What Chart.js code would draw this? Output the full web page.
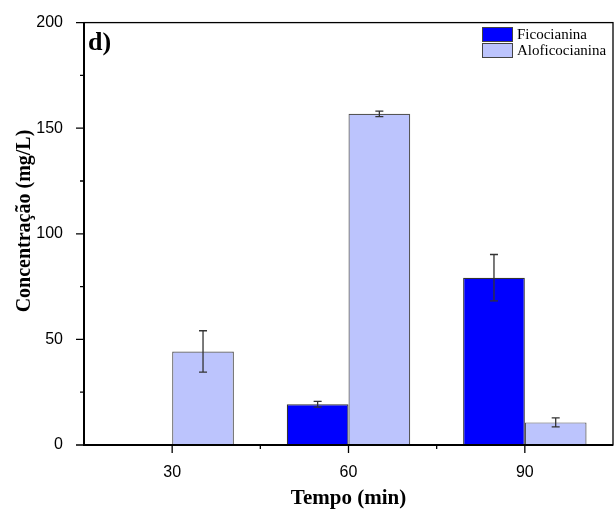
<!DOCTYPE html>
<html>
<head>
<meta charset="utf-8">
<script src="https://cdn.jsdelivr.net/npm/chart.js@4.4.1/dist/chart.umd.min.js"></script>
<style>
html,body{margin:0;padding:0;background:#fff;}
#wrap{width:614px;height:514px;position:relative;}
</style>
</head>
<body>
<div id="wrap"><canvas id="c" width="614" height="514"></canvas></div>
<script>
const categories = ['30', '60', '90'];
const ficoValues = [null, 19.3, 79.2];
const ficoErrors = [null, 1.4, 11.0];
const aloValues = [44.3, 156.8, 10.7];
const aloErrors = [9.8, 1.3, 2.1];
const yTicks = [0, 50, 100, 150, 200];
const yMinorTicks = [25, 75, 125, 175];
const seriesLabels = ['Ficocianina', 'Aloficocianina'];
const panelLabel = 'd)';
const xTitle = 'Tempo (min)';
const yTitle = 'Concentração (mg/L)';

const SERIF = '"Liberation Serif", "Times New Roman", serif';
const SANS = '"Liberation Sans", Arial, sans-serif';

const decor = {
  id: 'decor',
  afterDatasetsDraw(chart) {
    const ctx = chart.ctx;
    const ca = chart.chartArea;
    const xs = chart.scales.x, ys = chart.scales.y;
    ctx.save();
    // error bars
    ctx.strokeStyle = '#333';
    ctx.lineWidth = 1.3;
    const errs = [ficoErrors, aloErrors];
    chart.data.datasets.forEach((ds, di) => {
      const meta = chart.getDatasetMeta(di);
      meta.data.forEach((bar, i) => {
        const v = ds.data[i];
        const e = errs[di][i];
        if (v == null || e == null) return;
        const yt = ys.getPixelForValue(v + e);
        const yb = ys.getPixelForValue(v - e);
        const x = bar.x;
        ctx.beginPath();
        ctx.moveTo(x, yt); ctx.lineTo(x, yb);
        ctx.moveTo(x - 4, yt); ctx.lineTo(x + 4, yt);
        ctx.moveTo(x - 4, yb); ctx.lineTo(x + 4, yb);
        ctx.stroke();
      });
    });
    // frame
    ctx.strokeStyle = '#000';
    ctx.lineWidth = 1.3;
    ctx.strokeRect(ca.left, ca.top, ca.right - ca.left, ca.bottom - ca.top);
    ctx.lineWidth = 2;
    ctx.beginPath();
    ctx.moveTo(ca.left - 1, ca.bottom); ctx.lineTo(ca.right, ca.bottom);
    ctx.moveTo(ca.left, ca.top); ctx.lineTo(ca.left, ca.bottom + 1);
    ctx.stroke();
    // y ticks
    ctx.lineWidth = 1.3;
    ctx.beginPath();
    yTicks.forEach(v => { const y = ys.getPixelForValue(v); ctx.moveTo(ca.left - 8, y); ctx.lineTo(ca.left, y); });
    yMinorTicks.forEach(v => { const y = ys.getPixelForValue(v); ctx.moveTo(ca.left - 4, y); ctx.lineTo(ca.left, y); });
    // x ticks
    categories.forEach((c, i) => {
      const x = xs.getPixelForValue(i);
      ctx.moveTo(x, ca.bottom); ctx.lineTo(x, ca.bottom + 8);
    });
    for (let i = 0; i < categories.length - 1; i++) {
      const x = (xs.getPixelForValue(i) + xs.getPixelForValue(i + 1)) / 2;
      ctx.moveTo(x, ca.bottom); ctx.lineTo(x, ca.bottom + 4);
    }
    ctx.stroke();
    // panel label
    ctx.fillStyle = '#000';
    ctx.font = 'bold 26px ' + SERIF;
    ctx.textAlign = 'left';
    ctx.textBaseline = 'alphabetic';
    ctx.fillText(panelLabel, ca.left + 4, ca.top + 27);
    // legend
    ctx.font = '15px ' + SERIF;
    ctx.textBaseline = 'middle';
    chart.data.datasets.forEach((ds, di) => {
      const bx = 482, by = 27 + di * 16, bw = 30, bh = 14;
      ctx.fillStyle = ds.backgroundColor;
      ctx.fillRect(bx, by, bw, bh);
      ctx.strokeStyle = '#444';
      ctx.lineWidth = 1;
      ctx.strokeRect(bx + 0.5, by + 0.5, bw, bh);
      ctx.fillStyle = '#000';
      ctx.fillText(ds.label, bx + 35, by + bh / 2 + 1);
    });
    // axis titles
    ctx.font = 'bold 21px ' + SERIF;
    ctx.textAlign = 'center';
    ctx.textBaseline = 'middle';
    ctx.fillText(xTitle, (ca.left + ca.right) / 2, 499);
    ctx.save();
    ctx.translate(25, 221);
    ctx.rotate(-Math.PI / 2);
    ctx.font = 'bold 20px ' + SERIF;
    ctx.fillText(yTitle, 0, 0);
    ctx.restore();
    ctx.restore();
  }
};

new Chart(document.getElementById('c'), {
  type: 'bar',
  data: {
    labels: categories,
    datasets: [
      { label: seriesLabels[0], data: ficoValues, backgroundColor: '#0000FF', borderColor: '#333', borderWidth: 1.2 },
      { label: seriesLabels[1], data: aloValues, backgroundColor: '#BCC4FD', borderColor: '#555', borderWidth: 1.2 }
    ]
  },
  options: {
    responsive: false,
    animation: false,
    devicePixelRatio: 1,
    categoryPercentage: 0.7,
    barPercentage: 1.0,
    layout: { padding: { top: 20, right: 1, left: 0, bottom: 0 } },
    plugins: { legend: { display: false }, tooltip: { enabled: false }, title: { display: false } },
    scales: {
      x: {
        grid: { display: false },
        border: { display: false },
        ticks: { color: '#000', font: { family: SANS, size: 16 }, padding: 10 },
        afterFit(s) { s.height = 69; }
      },
      y: {
        min: 0, max: 200,
        grid: { display: false },
        border: { display: false },
        ticks: { color: '#000', font: { family: SANS, size: 16 }, stepSize: 50, padding: 13 },
        afterFit(s) { s.width = 84; }
      }
    }
  },
  plugins: [decor]
});
</script>
</body>
</html>
